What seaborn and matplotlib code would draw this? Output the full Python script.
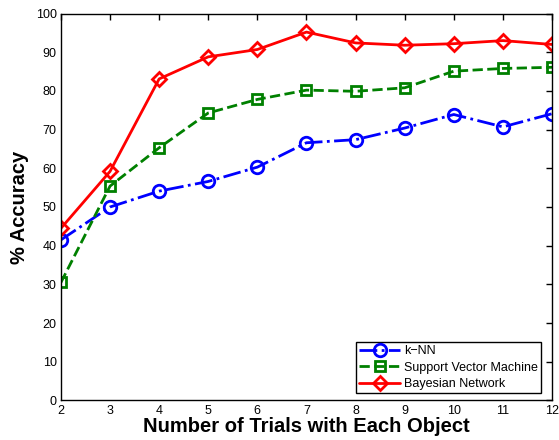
import matplotlib
matplotlib.use("Agg")
import matplotlib.pyplot as plt
import seaborn as sns
import pandas as pd

trials = [2, 3, 4, 5, 6, 7, 8, 9, 10, 11, 12]
knn = [41.5, 50.0, 54.1, 56.6, 60.3, 66.6, 67.4, 70.4, 73.9, 70.7, 74.1]
svm = [30.5, 55.4, 65.3, 74.3, 77.8, 80.2, 79.9, 80.8, 85.1, 85.8, 86.1]
bayes = [44.5, 59.2, 83.1, 88.8, 90.7, 95.2, 92.4, 91.8, 92.2, 93.0, 92.0]
labels = ["k\u2212NN", "Support Vector Machine", "Bayesian Network"]

sns.set_style("white")
plt.rcParams['font.family'] = ['Liberation Sans', 'DejaVu Sans']
plt.rcParams['text.color'] = 'black'
plt.rcParams['axes.labelcolor'] = 'black'

fig = plt.figure(figsize=(5.59, 4.40), dpi=100)
ax = fig.add_axes([0.109, 0.0898, 0.8785, 0.8795])

df = pd.DataFrame({"x": trials, "knn": knn, "svm": svm, "bayes": bayes})
sns.lineplot(data=df, x="x", y="knn", ax=ax, color="#0000ff", linestyle="-.",
             marker="o", markersize=9, markerfacecolor="none", markeredgecolor="#0000ff",
             markeredgewidth=2, linewidth=2, label=labels[0])
sns.lineplot(data=df, x="x", y="svm", ax=ax, color="#008000", linestyle="--",
             marker="s", markersize=6.5, markerfacecolor="none", markeredgecolor="#008000",
             markeredgewidth=2, linewidth=2, label=labels[1])
sns.lineplot(data=df, x="x", y="bayes", ax=ax, color="#ff0000", linestyle="-",
             marker="D", markersize=7.5, markerfacecolor="none", markeredgecolor="#ff0000",
             markeredgewidth=2, linewidth=2, label=labels[2])

ax.set_xlim(2, 12)
ax.set_ylim(0, 100)
ax.set_xticks(trials)
ax.set_yticks(range(0, 101, 10))
ax.tick_params(direction="in", top=True, right=True, length=4, width=1,
               labelsize=9, colors="black", labelcolor="black", pad=3)
for s in ax.spines.values():
    s.set_color("black")
    s.set_linewidth(1)
ax.set_xlabel("Number of Trials with Each Object", fontsize=14.5, fontweight="bold",
              labelpad=0, color="black")
ax.set_ylabel("% Accuracy", fontsize=14.5, fontweight="bold", labelpad=5, color="black")

leg = ax.legend(loc="lower right", fontsize=9, frameon=True, fancybox=False,
                edgecolor="black", borderpad=0.25, labelspacing=0.35, handlelength=3.3,
                handletextpad=0.3, borderaxespad=0.0, bbox_to_anchor=(0.978, 0.019))
leg.get_frame().set_linewidth(1)
leg.get_frame().set_alpha(1)
for t in leg.get_texts():
    t.set_color("black")

fig.savefig("out.png", dpi=100)
